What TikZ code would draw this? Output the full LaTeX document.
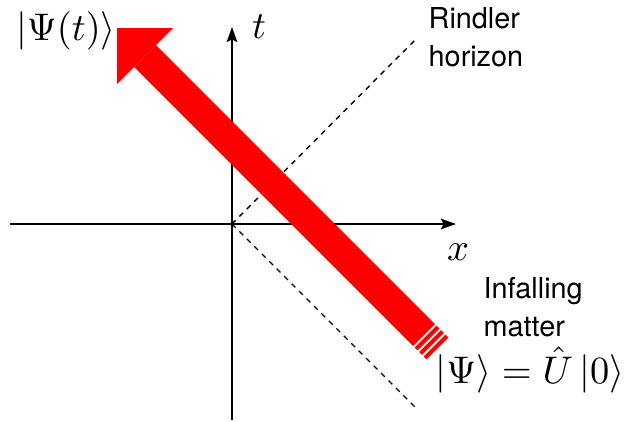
\documentclass[tikz,border=0pt]{standalone}
\usepackage{fontspec}
\setsansfont{TeX Gyre Heros}
\usepackage{tikz}
\usetikzlibrary{arrows.meta, positioning}
\definecolor{materia}{RGB}{255,0,0}
\tikzset{
  eje/.style={line width=0.55pt, -{Stealth[length=4.3pt, width=3pt, inset=0.8pt]}},
  horizonte/.style={line width=0.4pt, dash pattern=on 1.5pt off 1.5pt},
  chorro/.style={materia, line width=8.8pt},
  formula/.style={font=\fontsize{10.8}{13}\selectfont, inner sep=0pt},
  rotulo/.style={font=\sffamily\fontsize{8.2}{10.8}\selectfont, align=left, inner sep=0pt}
}

\begin{document}
\begin{tikzpicture}
  \useasboundingbox (-2.32,-1.97) rectangle (3.94,2.24);
  \coordinate (O) at (0,0);
  \coordinate (xizq) at (-2.22,0);
  \coordinate (xder) at (2.24,0);
  \coordinate (tabj) at (0,-1.96);
  \coordinate (tarr) at (0,1.97);
  \coordinate (hsup) at (1.83,1.84);
  \coordinate (hinf) at (1.83,-1.83);
  \draw[eje] (xizq) -- (xder);
  \draw[eje] (tabj) -- (tarr);
  \draw[horizonte] (O) -- (hsup);
  \draw[horizonte] (O) -- (hinf);
  \node[formula] (ejex) at (2.26,-0.28) {$x$};
  \node[formula] (ejet) at (0.27,1.97) {$t$};
  % materia que cae
  \coordinate (punta) at (-1.15,1.96);
  \coordinate (cola) at (1.92,-1.11);
  \draw[chorro, -{Triangle[length=11.3pt, width=22.6pt, line width=0pt]}] (cola) -- (punta);
  \foreach \d in {0.016, 0.060, 0.105}
    \draw[chorro] ([shift={(\d,-\d)}]cola) -- ++(0.029,-0.029);
  \node[formula] (psit) at (-1.66,1.93) {$|\Psi(t)\rangle$};
  \node[formula] (psi0) at (2.98,-1.46) {$|\Psi\rangle = \hat{U}\,|0\rangle$};
  \node[rotulo, anchor=north west] (rindler) at (1.96,2.17) {Rindler\\horizon};
  \node[rotulo, anchor=north west] (caida) at (2.51,-0.53) {Infalling\\matter};
\end{tikzpicture}
\end{document}
